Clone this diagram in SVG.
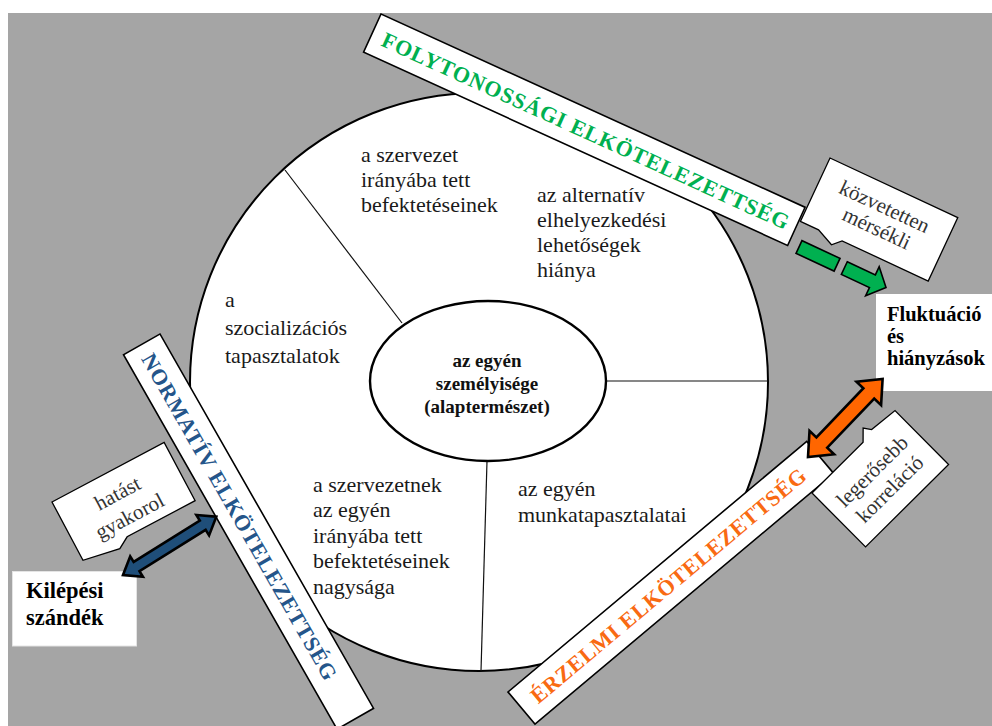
<svg xmlns="http://www.w3.org/2000/svg" width="992" height="726" viewBox="0 0 992 726">
  <style>
    .body { font-family: "Liberation Serif", Tinos, "Times New Roman", "DejaVu Serif", serif; font-size: 22px; fill: #1a1a1a; }
    .core { font-family: "Liberation Serif", Tinos, "Times New Roman", "DejaVu Serif", serif; font-size: 19px; font-weight: bold; fill: #111; text-anchor: middle; }
    .box { font-family: "Liberation Serif", Tinos, "Times New Roman", "DejaVu Serif", serif; font-weight: bold; fill: #000; }
    .band { fill: #fff; stroke: #000; stroke-width: 1.6; }
    .bandtxt { font-family: "Liberation Serif", Tinos, "Times New Roman", "DejaVu Serif", serif; font-size: 22px; font-weight: bold; }
    .call { fill: #fff; stroke: #000; stroke-width: 1.3; stroke-linejoin: miter; }
    .calltxt { font-family: "Liberation Serif", Tinos, "Times New Roman", "DejaVu Serif", serif; font-size: 21px; fill: #333; text-anchor: middle; }
    .div { stroke: #111; stroke-width: 1.2; fill: none; }
    .dbl { stroke: #000; stroke-width: 2.6; stroke-linejoin: miter; }
  </style>

  <!-- page and grey backdrop -->
  <rect x="0" y="0" width="992" height="726" fill="#fff"/>
  <rect x="8" y="13" width="984" height="713" fill="#a5a5a5"/>

  <!-- outer circle with its sectors -->
  <g id="outer-circle">
    <circle cx="479" cy="382" r="289" fill="#fff" stroke="#000" stroke-width="2"/>
    <line class="div" x1="285" y1="170" x2="402" y2="323"/>
    <line class="div" x1="606" y1="381" x2="768" y2="381"/>
    <line class="div" x1="487" y1="461" x2="481" y2="671"/>
  </g>

  <g id="sector-investments">
    <text class="body" x="361" y="162">a szervezet</text>
    <text class="body" x="361" y="187">irányába tett</text>
    <text class="body" x="361" y="212">befektetéseinek</text>
  </g>
  <g id="sector-alternatives">
    <text class="body" x="537" y="202">az alternatív</text>
    <text class="body" x="537" y="227">elhelyezkedési</text>
    <text class="body" x="537" y="252">lehetőségek</text>
    <text class="body" x="537" y="277">hiánya</text>
  </g>
  <g id="sector-socialisation">
    <text class="body" x="225" y="307">a</text>
    <text class="body" x="225" y="335">szocializációs</text>
    <text class="body" x="225" y="363">tapasztalatok</text>
  </g>
  <g id="sector-org-investments">
    <text class="body" x="313" y="492">a szervezetnek</text>
    <text class="body" x="313" y="517">az egyén</text>
    <text class="body" x="313" y="543">irányába tett</text>
    <text class="body" x="313" y="568">befektetéseinek</text>
    <text class="body" x="313" y="594">nagysága</text>
  </g>
  <g id="sector-work-experience">
    <text class="body" x="518" y="496">az egyén</text>
    <text class="body" x="518" y="522">munkatapasztalatai</text>
  </g>

  <!-- personality core -->
  <g id="core">
    <ellipse cx="488" cy="381" rx="118" ry="80" fill="#fff" stroke="#000" stroke-width="2.4"/>
    <text class="core" x="487" y="367">az egyén</text>
    <text class="core" x="487" y="390">személyisége</text>
    <text class="core" x="487" y="413">(alaptermészet)</text>
  </g>

  <!-- commitment bands -->
  <g id="band-continuance" transform="translate(381,14) rotate(24.5)">
    <rect class="band" x="0" y="0" width="466" height="42"/>
    <text class="bandtxt" x="12" y="29" fill="#00b050" textLength="445" lengthAdjust="spacing">FOLYTONOSSÁGI ELKÖTELEZETTSÉG</text>
  </g>
  <g id="band-normative" transform="translate(160,334) rotate(60.3)">
    <rect class="band" x="0" y="0" width="431" height="42"/>
    <text class="bandtxt" x="12" y="29" fill="#24558a" textLength="372" lengthAdjust="spacing">NORMATÍV ELKÖTELEZETTSÉG</text>
  </g>
  <g id="band-affective" transform="translate(508,692) rotate(-40)">
    <rect class="band" x="0" y="0" width="390" height="42"/>
    <text class="bandtxt" x="15" y="29" fill="#f96a12" textLength="352" lengthAdjust="spacing">ÉRZELMI ELKÖTELEZETTSÉG</text>
  </g>

  <!-- outcome boxes -->
  <g id="fluctuation">
    <rect x="876" y="294" width="116" height="97" fill="#fff"/>
    <text class="box" x="887" y="321" font-size="20.5">Fluktuáció</text>
    <text class="box" x="887" y="343" font-size="20.5">és</text>
    <text class="box" x="887" y="365" font-size="20.5">hiányzások</text>
  </g>
  <g id="intent-to-leave">
    <rect x="12.5" y="571.5" width="124" height="74.5" fill="#fff" stroke="#e4e4e4" stroke-width="1"/>
    <text class="box" x="26" y="598" font-size="22.5">Kilépési</text>
    <text class="box" x="26" y="625" font-size="22.5">szándék</text>
  </g>

  <!-- connectors -->
  <g id="connectors">
    <g transform="translate(799,247) rotate(25)" fill="#00b050" stroke="#000" stroke-width="1.6" stroke-linejoin="miter">
      <rect x="0" y="-7" width="42" height="14"/>
      <path d="M50,-7 L81,-7 L81,-16 L96,0 L81,16 L81,7 L50,7 Z"/>
    </g>
    <path class="dbl" fill="#ff6600" transform="translate(808,457) rotate(-46.3)"
          d="M0,0 L20,-17 L20,-7.5 L88,-7.5 L88,-17 L108,0 L88,17 L88,7.5 L20,7.5 L20,17 Z"/>
    <path class="dbl" fill="#1f4e79" transform="translate(123,575) rotate(-32)"
          d="M0,0 L16,-12 L16,-5.5 L94,-5.5 L94,-12 L110,0 L94,12 L94,5.5 L16,5.5 L16,12 Z"/>
  </g>

  <!-- callout labels -->
  <g id="callout-indirect" transform="translate(830,158) rotate(25)">
    <polygon class="call" points="0,0 141,0 141,70 46,70 38,78 20,70 0,70"/>
    <text class="calltxt" x="70" y="28">közvetetten</text>
    <text class="calltxt" x="72" y="51">mérsékli</text>
  </g>
  <g id="callout-strongest" transform="translate(812,493) rotate(-44.8)">
    <polygon class="call" points="0,0 72,0 82,-10 87,-3 117,0 117,76 0,76"/>
    <text class="calltxt" x="58" y="34">legerősebb</text>
    <text class="calltxt" x="58" y="59">korreláció</text>
  </g>
  <g id="callout-influence" transform="translate(52,502) rotate(-28)">
    <polygon class="call" points="0,0 127,0 127,66 50,66 38,73 0,66"/>
    <text class="calltxt" x="62" y="30">hatást</text>
    <text class="calltxt" x="62" y="56">gyakorol</text>
  </g>
</svg>
